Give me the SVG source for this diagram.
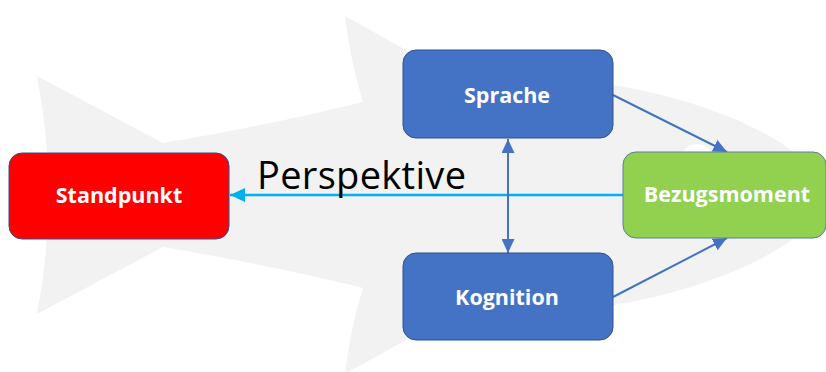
<svg xmlns="http://www.w3.org/2000/svg" width="826" height="372" viewBox="0 0 826 372">
  <style>
    .node-blue { fill: #4472C4; stroke: #2F528F; stroke-width: 1; }
    .node-red { fill: #FF0000; stroke: #2F528F; stroke-width: 1; }
    .node-green { fill: #92D050; stroke: #5B7FA0; stroke-width: 1; }
    .label { font-family: "Open Sans", "Noto Sans", sans-serif; font-weight: bold; font-size: 21.5px; fill: #FFFFFF; text-anchor: middle; }
    .caption { font-family: "Open Sans", "Noto Sans", sans-serif; font-size: 38px; fill: #000000; }
    .link { fill: none; stroke: #4472C4; stroke-width: 2; }
    .link-cyan { fill: none; stroke: #00B0F0; stroke-width: 2.5; }
  </style>
  <defs>
    <marker id="arrow-blue" markerUnits="userSpaceOnUse" markerWidth="15" markerHeight="13" refX="14" refY="6.5" orient="auto-start-reverse">
      <path d="M0,0 L14,6.5 L0,13 Z" fill="#4472C4"/>
    </marker>
    <marker id="arrow-cyan" markerUnits="userSpaceOnUse" markerWidth="16" markerHeight="14" refX="15" refY="7" orient="auto-start-reverse">
      <path d="M0,0 L15,7 L0,14 Z" fill="#00B0F0"/>
    </marker>
  </defs>

  <!-- background fish silhouette -->
  <g id="fish">
    <path fill="#F2F2F2" d="M37,76 L163,143 Q270,125 363,102 Q350,60 345,16 L440,69 C520,74 560,77 613,85 C670,94 740,115 787,147 C805,160 822,178 830,195 C822,212 805,230 787,243 C740,275 670,296 613,305 C560,313 520,316 440,321 L345,374 Q350,330 363,288 Q270,265 163,247 L37,314 Q60,195 37,76 Z"/>
    <circle cx="697" cy="160" r="16" fill="#FFFFFF"/>
  </g>

  <!-- connectors -->
  <g id="connectors">
    <line class="link-cyan" x1="623" y1="195" x2="230" y2="195" marker-end="url(#arrow-cyan)"/>
    <line class="link" x1="508" y1="139" x2="508" y2="253" marker-start="url(#arrow-blue)" marker-end="url(#arrow-blue)"/>
    <line class="link" x1="613" y1="95" x2="727" y2="152" marker-end="url(#arrow-blue)"/>
    <line class="link" x1="613" y1="297" x2="727" y2="238" marker-end="url(#arrow-blue)"/>
  </g>

  <g id="standpunkt">
    <rect class="node-red" x="9" y="153" width="220" height="86" rx="13"/>
    <text class="label" x="119" y="203">Standpunkt</text>
  </g>

  <g id="sprache">
    <rect class="node-blue" x="403" y="50" width="210" height="88" rx="13"/>
    <text class="label" x="507" y="103">Sprache</text>
  </g>

  <g id="kognition">
    <rect class="node-blue" x="403" y="253" width="210" height="87" rx="13"/>
    <text class="label" x="507" y="305">Kognition</text>
  </g>

  <g id="bezugsmoment">
    <rect class="node-green" x="623" y="152" width="203" height="86" rx="13"/>
    <text class="label" x="727" y="202">Bezugsmoment</text>
  </g>

  <g id="perspektive-label">
    <text class="caption" x="257" y="189" textLength="209" lengthAdjust="spacing">Perspektive</text>
  </g>
</svg>
